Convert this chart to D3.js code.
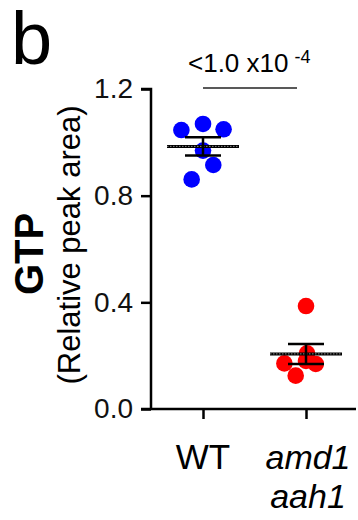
<!DOCTYPE html>
<html>
<head>
<meta charset="utf-8">
<script src="https://cdn.jsdelivr.net/npm/d3@7"></script>
<style>
  body { margin: 0; background: #fff; }
  text { font-family: "Liberation Sans", Arial, sans-serif; }
</style>
</head>
<body>
<script>
// groups and measured values (relative peak area)
const groups = ["WT", "amd1 aah1"];
const wtValues = [1.046, 1.069, 1.049, 0.969, 0.915, 0.861];
const mutValues = [0.386, 0.171, 0.209, 0.169, 0.125, 0.180];
// horizontal scatter of the dots, as a fraction of the gap between groups
const wtJitter = [-0.21, 0.0, 0.20, 0.0, 0.10, -0.11];
const mutJitter = [0.0, -0.21, 0.01, 0.095, -0.10, 0.0];
const yTicks = [0.0, 0.4, 0.8, 1.2];
const pLabel = "<1.0 x10";
const pExp = "-4";

const series = [
  {group: groups[0], values: wtValues, jitter: wtJitter, color: "#0000ff"},
  {group: groups[1], values: mutValues, jitter: mutJitter, color: "#ff0000"}
];

const svg = d3.select("body").append("svg")
  .attr("width", 358)
  .attr("height", 520);

const x = d3.scalePoint().domain(groups).range([203, 306]);
const gap = x(groups[1]) - x(groups[0]);
const y = d3.scaleLinear().domain([0, 1.2]).range([409, 89]);

// y axis
const yAxis = svg.append("g")
  .attr("transform", "translate(151,0)")
  .call(d3.axisLeft(y).tickValues(yTicks).tickFormat(d3.format(".1f")).tickSize(10).tickPadding(8));
yAxis.select(".domain").attr("d", `M-10,${y(1.2)}H0V${y(0)}`);

// x axis
const xAxis = svg.append("g")
  .attr("transform", "translate(0,409)")
  .call(d3.axisBottom(x).tickSize(10).tickFormat(""));
xAxis.select(".domain").attr("d", "M141,0H356");

svg.selectAll(".domain, .tick line")
  .attr("stroke", "#000").attr("stroke-width", 2.5);
yAxis.selectAll(".tick text")
  .attr("font-size", 28).attr("fill", "#111")
  .attr("font-family", "'Liberation Sans', Arial, sans-serif");

// x labels
svg.append("text").attr("x", x("WT")).attr("y", 469)
  .attr("text-anchor", "middle").attr("font-size", 35).text("WT");
const lab = svg.append("text").attr("x", x("amd1 aah1") + 2).attr("y", 469)
  .attr("text-anchor", "middle").attr("font-size", 34).attr("font-style", "italic");
groups[1].split(" ").forEach((w, i) => {
  lab.append("tspan").attr("x", x("amd1 aah1") + 2).attr("dy", i ? 39 : 0).text(w);
});

// y titles
svg.append("text")
  .attr("transform", "translate(43,254) rotate(-90)")
  .attr("text-anchor", "middle").attr("font-size", 40).attr("font-weight", "bold")
  .text("GTP");
svg.append("text")
  .attr("transform", "translate(80,245) rotate(-90)")
  .attr("text-anchor", "middle").attr("font-size", 31)
  .text("(Relative peak area)");

// panel letter
svg.append("text").attr("x", 11).attr("y", 64)
  .attr("font-size", 74).text("b");

// significance
svg.append("line")
  .attr("x1", x(groups[0])).attr("x2", x(groups[1]) - 9)
  .attr("y1", 88).attr("y2", 88)
  .attr("stroke", "#222").attr("stroke-width", 1.5);
const pt = svg.append("text").attr("x", 188).attr("y", 72).attr("font-size", 26);
pt.append("tspan").text(pLabel);
pt.append("tspan").attr("dx", 6).attr("dy", -9).attr("font-size", 18).text(pExp);

// dots
series.forEach(s => {
  svg.selectAll(null)
    .data(s.values)
    .enter()
    .append("circle")
    .attr("cx", (d, i) => x(s.group) + s.jitter[i] * gap)
    .attr("cy", d => y(d))
    .attr("r", 8.3)
    .attr("fill", s.color);
});

// mean and SEM
series.forEach(s => {
  const m = d3.mean(s.values);
  const sem = d3.deviation(s.values) / Math.sqrt(s.values.length);
  const cx = x(s.group);
  const g = svg.append("g").attr("stroke", "#000");
  g.append("line").attr("x1", cx - 36).attr("x2", cx + 36)
    .attr("y1", y(m)).attr("y2", y(m)).attr("stroke-width", 3);
  g.append("line").attr("x1", cx - 36).attr("x2", cx + 36)
    .attr("y1", y(m)).attr("y2", y(m)).attr("stroke-width", 1)
    .attr("stroke", "#888").attr("stroke-dasharray", "1.5,1.5");
  g.append("line").attr("x1", cx).attr("x2", cx)
    .attr("y1", y(m + sem)).attr("y2", y(m - sem)).attr("stroke-width", 2.5);
  [m + sem, m - sem].forEach(v => {
    g.append("line").attr("x1", cx - 18).attr("x2", cx + 18)
      .attr("y1", y(v)).attr("y2", y(v)).attr("stroke-width", 2.5);
  });
});
</script>
</body>
</html>
